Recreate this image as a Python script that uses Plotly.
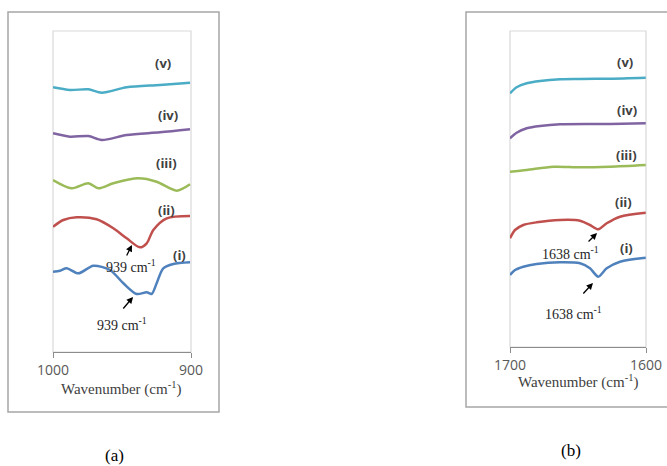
import plotly.graph_objects as go

W, H = 667, 466

# ---------------- Data: panel (a), 1000-900 cm-1 ----------------
wn_a_v = [1000, 987.7, 974.4, 964.7, 946.6, 922.5, 900.7]
val_a_v = [264.7, 262, 262.7, 259.3, 264.7, 267, 269.3]

wn_a_iv = [1000, 987.7, 974.4, 964.7, 946.6, 922.5, 900.7]
val_a_iv = [218.7, 215.3, 216, 212, 217, 219.7, 222.7]

wn_a_iii = [1000, 986.5, 974.4, 967.1, 956.3, 938.2, 924.9, 910.4, 900.7]
val_a_iii = [172, 163.7, 168.7, 163.7, 168.7, 173.7, 170.3, 161.3, 167.7]

wn_a_ii = [1000, 992.5, 982.9, 968.4, 956.3, 946.6, 937, 932.1, 927.3, 917.6, 900.7]
val_a_ii = [125.3, 132, 134.7, 132.7, 123.7, 113.7, 104.7, 108.7, 122, 133.7, 136]

wn_a_i = [1000, 994.9, 990.1, 981.6, 970.8, 958.7, 949, 939.4, 932.1, 928.5, 924.9, 920.1, 912.8, 900.7]
val_a_i = [80.3, 81.3, 83.7, 78.7, 86.3, 82, 68.7, 58, 59.7, 58, 68.7, 83.7, 88, 89.7]

# ---------------- Data: panel (b), 1700-1600 cm-1 ----------------
wn_b_v = [1700, 1695.1, 1687.7, 1677.9, 1663.2, 1648.5, 1626.5, 1600.2]
val_b_v = [253.7, 259.7, 263.7, 266, 267.7, 268, 268.3, 269.3]

wn_b_iv = [1700, 1695.1, 1687.7, 1677.9, 1663.2, 1626.5, 1600.2]
val_b_iv = [208.7, 214.3, 218.7, 221, 222.7, 223, 223.7]

wn_b_iii = [1700, 1687.7, 1668.1, 1648.5, 1626.5, 1600.2]
val_b_iii = [175.3, 177, 180.3, 179.7, 180.3, 182]

wn_b_ii = [1700, 1696.3, 1690.2, 1680.4, 1663.2, 1648.5, 1641.2, 1635.1, 1628.9, 1619.1, 1600.2]
val_b_ii = [108.7, 117, 122, 124.7, 127, 126.3, 122, 117.7, 123.7, 130.3, 134.3]

wn_b_i = [1700, 1696.3, 1690.2, 1680.4, 1663.2, 1648.5, 1641.2, 1635.1, 1628.9, 1619.1, 1600.2]
val_b_i = [72, 77, 80.3, 83, 84.7, 83.7, 78.7, 70.3, 78.7, 85.3, 89.3]

series_labels = ["(i)", "(ii)", "(iii)", "(iv)", "(v)"]
colors = ["#4f81bd", "#c0504d", "#9bbb59", "#8064a2", "#4bacc6"]
ticks_a = [1000, 900]
ticks_b = [1700, 1600]
peak_a = "939 cm<sup>-1</sup>"
peak_b = "1638 cm<sup>-1</sup>"
axis_title = "Wavenumber (cm<sup>-1</sup>)"

def px(x):
    return x / W

def py(y):
    return 1 - y / H

fig = go.Figure()

a_series = [(wn_a_i, val_a_i), (wn_a_ii, val_a_ii), (wn_a_iii, val_a_iii), (wn_a_iv, val_a_iv), (wn_a_v, val_a_v)]
b_series = [(wn_b_i, val_b_i), (wn_b_ii, val_b_ii), (wn_b_iii, val_b_iii), (wn_b_iv, val_b_iv), (wn_b_v, val_b_v)]

for (x, y), c, lab in zip(a_series, colors, series_labels):
    fig.add_trace(go.Scatter(x=x, y=y, mode="lines", line=dict(color=c, width=2.5, shape="spline", smoothing=0.8),
                             name=lab, xaxis="x", yaxis="y", showlegend=False))
for (x, y), c, lab in zip(b_series, colors, series_labels):
    fig.add_trace(go.Scatter(x=x, y=y, mode="lines", line=dict(color=c, width=2.5, shape="spline", smoothing=0.8),
                             name=lab, xaxis="x2", yaxis="y2", showlegend=False))

tickfont = dict(family="Open Sans, Liberation Sans, sans-serif", size=14, color="#595959")
common_x = dict(showgrid=False, zeroline=False, showline=True, linecolor="#8c8c8c", linewidth=1,
                ticks="outside", ticklen=5, tickcolor="#8c8c8c", tickfont=tickfont, automargin=False)
common_y = dict(showgrid=False, zeroline=False, showline=False, showticklabels=False, ticks="", automargin=False)

fig.update_layout(
    template="none",
    width=W, height=H, margin=dict(l=0, r=0, t=0, b=0, pad=0, autoexpand=False),
    paper_bgcolor="white", plot_bgcolor="white",
    xaxis=dict(domain=[px(53), px(191)], range=[1000, 900], tickvals=ticks_a, anchor="y", **common_x),
    yaxis=dict(domain=[py(352), py(31)], range=[0, 321], anchor="x", **common_y),
    xaxis2=dict(domain=[px(510), px(646)], range=[1700, 1600], tickvals=ticks_b, anchor="y2", **common_x),
    yaxis2=dict(domain=[py(347), py(31)], range=[0, 316], anchor="x2", **common_y),
)

shapes = []
# outer frames
shapes.append(dict(type="rect", xref="paper", yref="paper", x0=px(8), x1=px(219), y0=py(412), y1=py(12),
                   line=dict(color="#a6a6a6", width=1.5)))
shapes.append(dict(type="rect", xref="paper", yref="paper", x0=px(466), x1=px(672), y0=py(407), y1=py(12),
                   line=dict(color="#a6a6a6", width=1.5)))
# plot area borders
for xr, yr in [("x", "y"), ("x2", "y2")]:
    shapes.append(dict(type="rect", xref=xr + " domain", yref=yr + " domain", x0=0, x1=1, y0=0, y1=1,
                       line=dict(color="#d9d9d9", width=1.2), layer="below"))
fig.update_layout(shapes=shapes)

lab_font = dict(family="Open Sans, Liberation Sans, sans-serif", size=13, color="#404040")
serif = "Liberation Serif"
C = dict(xanchor="center", yanchor="middle")
ann = []
for (x, y), t in zip([(908, 97), (917.4, 142), (917.4, 189), (916.7, 237), (920.3, 289)], series_labels):
    ann.append(dict(x=x, y=y, xref="x", yref="y", text="<b>" + t + "</b>", showarrow=False, font=lab_font, **C))
for (x, y), t in zip([(1614.7, 99), (1616.9, 145), (1614, 192), (1614, 237), (1615.4, 285)], series_labels):
    ann.append(dict(x=x, y=y, xref="x2", yref="y2", text="<b>" + t + "</b>", showarrow=False, font=lab_font, **C))

pk_font = dict(family=serif, size=14, color="#262626")
arrow = dict(text="", showarrow=True, arrowhead=2, arrowsize=1, arrowwidth=1.3, arrowcolor="#000")
ann += [
    dict(x=942.8, y=107, xref="x", yref="y", ax=-6, ay=12, **arrow),
    dict(x=942, y=55, xref="x", yref="y", ax=-11, ay=13, **arrow),
    dict(x=1636, y=114, xref="x2", yref="y2", ax=-10, ay=10, **arrow),
    dict(x=1639, y=64, xref="x2", yref="y2", ax=-11, ay=12, **arrow),
    dict(x=px(131), y=py(266), xref="paper", yref="paper", text=peak_a, showarrow=False, font=pk_font, **C),
    dict(x=px(122), y=py(324), xref="paper", yref="paper", text=peak_a, showarrow=False, font=pk_font, **C),
    dict(x=px(570), y=py(253), xref="paper", yref="paper", text=peak_b, showarrow=False, font=pk_font, **C),
    dict(x=px(573), y=py(313), xref="paper", yref="paper", text=peak_b, showarrow=False, font=pk_font, **C),
    dict(x=px(121), y=py(388), xref="paper", yref="paper", text=axis_title, showarrow=False,
         font=dict(family=serif, size=15, color="#404040"), **C),
    dict(x=px(578), y=py(381), xref="paper", yref="paper", text=axis_title, showarrow=False,
         font=dict(family=serif, size=15, color="#404040"), **C),
    dict(x=px(114), y=py(455), xref="paper", yref="paper", text="(a)", showarrow=False,
         font=dict(family=serif, size=17, color="#000"), **C),
    dict(x=px(571), y=py(450), xref="paper", yref="paper", text="(b)", showarrow=False,
         font=dict(family=serif, size=17, color="#000"), **C),
]
fig.update_layout(annotations=ann)

fig.write_html("out.html", config={"displayModeBar": False},
               post_script="document.body.style.margin='0';document.body.style.overflow='hidden';")
